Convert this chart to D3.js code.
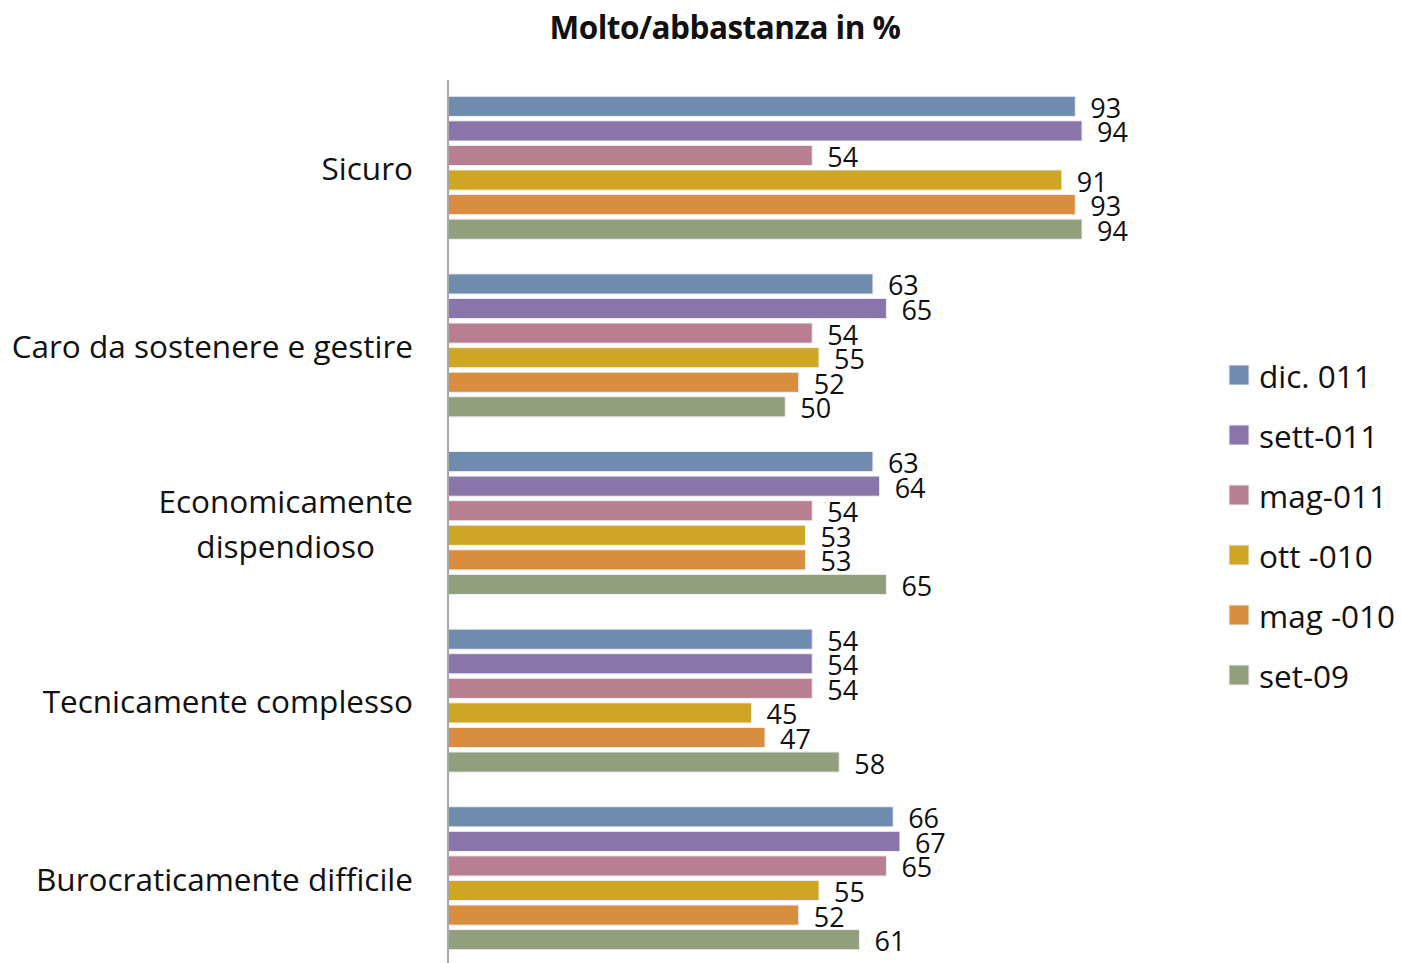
<!DOCTYPE html>
<html>
<head>
<meta charset="utf-8">
<script src="https://cdn.jsdelivr.net/npm/d3@7"></script>
<style>
  body { margin: 0; background: #fff; }
  text { font-family: "Open Sans", "Noto Sans", sans-serif; fill: #111; }
</style>
</head>
<body>
<div id="chart"></div>
<script>
// categories (top to bottom), multi-line labels split with |
var categories = ["Sicuro", "Caro da sostenere e gestire", "Economicamente|dispendioso",
                  "Tecnicamente complesso", "Burocraticamente difficile"];
var seriesNames = ["dic. 011", "sett-011", "mag-011", "ott -010", "mag -010", "set-09"];
var seriesColors = ["#6f8bae", "#8a75aa", "#b77f8f", "#cea624", "#d88e3e", "#929f7d"];

// values per series, one entry per category
var dic011  = [93, 63, 63, 54, 66];
var sett011 = [94, 65, 64, 54, 67];
var mag011  = [54, 54, 54, 54, 65];
var ott010  = [91, 55, 53, 45, 55];
var mag010  = [93, 52, 53, 47, 52];
var set09   = [94, 50, 65, 58, 61];
var seriesValues = [dic011, sett011, mag011, ott010, mag010, set09];

var width = 1402, height = 963;

var svg = d3.select("#chart")
    .append("svg")
    .attr("width", width)
    .attr("height", height);

// Title
svg.append("text")
    .attr("x", 725)
    .attr("y", 39)
    .attr("text-anchor", "middle")
    .style("font-size", "31.5px")
    .style("font-weight", "bold")
    .style("letter-spacing", "-0.5px")
    .text("Molto/abbastanza in %");

var x = d3.scaleLinear()
    .domain([0, 100])
    .range([448, 448 + 674.5]);

var y = d3.scaleBand()
    .domain(categories)
    .range([77, 969])
    .paddingInner(0.17)
    .paddingOuter(0.096);

var ySub = d3.scaleBand()
    .domain(d3.range(seriesNames.length))
    .range([0, y.bandwidth()])
    .paddingInner(0.18)
    .paddingOuter(0.09);

var rows = [];
categories.forEach(function (c, ci) {
    seriesValues.forEach(function (vals, si) {
        rows.push({ cat: c, s: si, v: vals[ci] });
    });
});

// Bars
svg.selectAll("rect.bar")
    .data(rows)
    .enter()
    .append("rect")
    .attr("class", "bar")
    .attr("x", x(0))
    .attr("y", function (d) { return y(d.cat) + ySub(d.s); })
    .attr("width", function (d) { return x(d.v) - x(0); })
    .attr("height", ySub.bandwidth())
    .attr("fill", function (d) { return seriesColors[d.s]; })
    .attr("stroke", "#eef0f4")
    .attr("stroke-width", 1);

// Bar values
svg.selectAll("text.val")
    .data(rows)
    .enter()
    .append("text")
    .attr("class", "val")
    .attr("x", function (d) { return x(d.v) + 15; })
    .attr("y", function (d) { return y(d.cat) + ySub(d.s) + ySub.bandwidth() / 2 + 1; })
    .attr("dominant-baseline", "central")
    .style("font-size", "27px")
    .text(function (d) { return d.v; });

// Y axis line
svg.append("line")
    .attr("x1", 448).attr("x2", 448)
    .attr("y1", 80).attr("y2", height)
    .attr("stroke", "#a6a6a6")
    .attr("stroke-width", 2);

// Category labels
categories.forEach(function (c) {
    var lines = c.split("|");
    var cy = y(c) + y.bandwidth() / 2;
    var g = svg.append("g");
    var lh = 45;
    var texts = lines.map(function (l, i) {
        return g.append("text")
            .attr("y", cy + (i - (lines.length - 1) / 2) * lh)
            .attr("dominant-baseline", "central")
            .attr("text-anchor", "middle")
            .style("font-size", "31.5px")
            .text(l);
    });
    var maxW = d3.max(texts, function (t) { return t.node().getComputedTextLength(); });
    texts.forEach(function (t) { t.attr("x", 413 - maxW / 2); });
});

// Legend
var legend = svg.selectAll("g.leg")
    .data(seriesNames)
    .enter()
    .append("g")
    .attr("class", "leg")
    .attr("transform", function (d, i) { return "translate(1229," + (375 + i * 60) + ")"; });

legend.append("rect")
    .attr("x", 0).attr("y", -10)
    .attr("width", 20).attr("height", 20)
    .attr("fill", function (d, i) { return seriesColors[i]; })
    .attr("stroke", "#eef0f4");

legend.append("text")
    .attr("x", 30)
    .attr("y", 0)
    .attr("dominant-baseline", "central")
    .style("font-size", "31.5px")
    .text(function (d) { return d; });
</script>
</body>
</html>
